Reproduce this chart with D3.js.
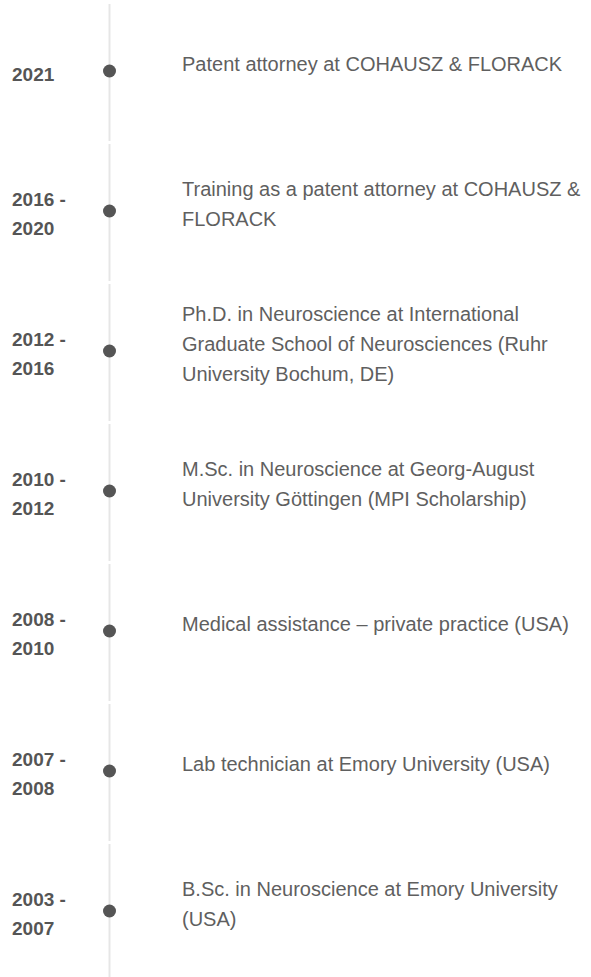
<!DOCTYPE html>
<html>
<head>
<meta charset="utf-8">
<script src="https://cdn.jsdelivr.net/npm/d3@7"></script>
<style>
  html, body { margin: 0; padding: 0; background: #fff; }
  svg { display: block; font-family: "Liberation Sans", Arial, Helvetica, sans-serif; }
</style>
</head>
<body>
<div id="chart"></div>
<script>
// ---- data ----
const periods = ["2021", "2016 - 2020", "2012 - 2016", "2010 - 2012", "2008 - 2010", "2007 - 2008", "2003 - 2007"];
const periodLines = [
  ["2021"],
  ["2016 -", "2020"],
  ["2012 -", "2016"],
  ["2010 -", "2012"],
  ["2008 -", "2010"],
  ["2007 -", "2008"],
  ["2003 -", "2007"]
];
const descriptionLines = [
  ["Patent attorney at COHAUSZ & FLORACK"],
  ["Training as a patent attorney at COHAUSZ &", "FLORACK"],
  ["Ph.D. in Neuroscience at International", "Graduate School of Neurosciences (Ruhr", "University Bochum, DE)"],
  ["M.Sc. in Neuroscience at Georg-August", "University Göttingen (MPI Scholarship)"],
  ["Medical assistance – private practice (USA)"],
  ["Lab technician at Emory University (USA)"],
  ["B.Sc. in Neuroscience at Emory University", "(USA)"]
];

// ---- layout ----
const W = 591, H = 977;
const svg = d3.select("#chart").append("svg").attr("width", W).attr("height", H);

const y = d3.scaleBand().domain(periods).range([0, 980]).padding(0);
const axisX = 109.5;
const yearX = 12;
const descX = 182;

const rows = svg.selectAll("g.row")
  .data(periods.map((p, i) => ({ p, i, years: periodLines[i], desc: descriptionLines[i] })))
  .join("g").attr("class", "row")
  .attr("transform", d => `translate(0,${y(d.p)})`);

const bw = y.bandwidth();

// line segments
rows.append("line")
  .attr("x1", axisX).attr("x2", axisX)
  .attr("y1", 4).attr("y2", bw + 1)
  .attr("stroke", "#e6e6e6").attr("stroke-width", 2);

// dots
const dotY = 71;
rows.append("circle")
  .attr("cx", axisX).attr("cy", dotY).attr("r", 6.5)
  .attr("fill", "#555");

// year labels
const yearLH = 29.5;
rows.append("text")
  .attr("font-size", 19).attr("font-weight", "bold").attr("fill", "#555")
  .each(function(d) {
    const n = d.years.length;
    const c = dotY + 3 - (n - 1) * yearLH / 2;
    d3.select(this).selectAll("tspan").data(d.years).join("tspan")
      .attr("x", yearX).attr("y", (t, k) => c + k * yearLH).attr("dy", "0.35em")
      .text(t => t);
  });

// descriptions
const descLH = 30;
rows.append("text")
  .attr("font-size", 20).attr("fill", "#5f5f5f")
  .each(function(d) {
    const n = d.desc.length;
    const c = dotY - 7 - (n - 1) * descLH / 2;
    d3.select(this).selectAll("tspan").data(d.desc).join("tspan")
      .attr("x", descX).attr("y", (t, k) => c + k * descLH).attr("dy", "0.35em")
      .text(t => t);
  });
</script>
</body>
</html>
